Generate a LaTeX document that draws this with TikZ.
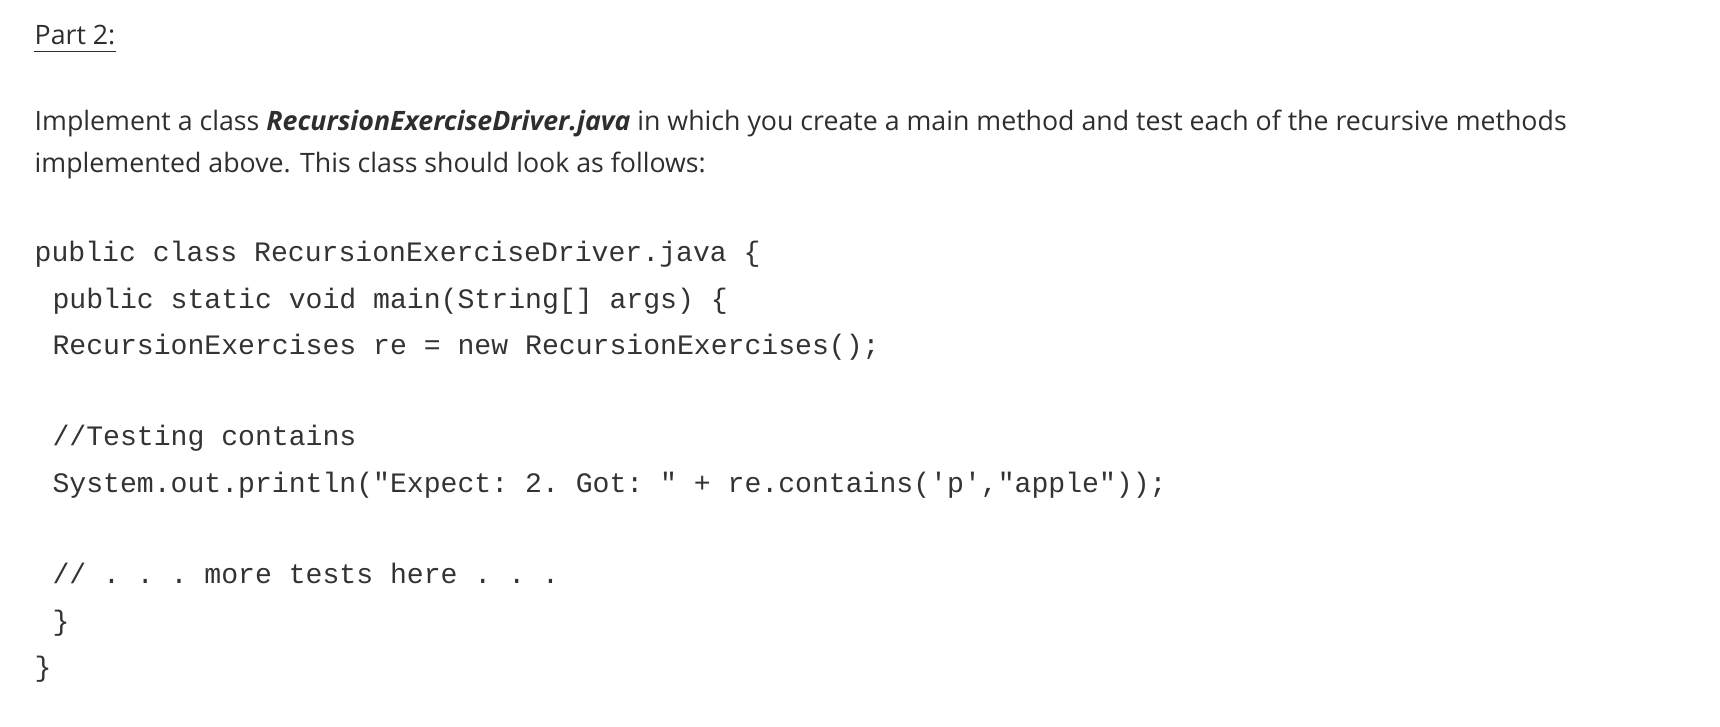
\documentclass[tikz,border=0pt]{standalone}
\usepackage{fontspec}
\setmainfont{Open Sans}
\setmonofont{Liberation Mono}
\begin{document}
\begin{tikzpicture}[x=0.01cm,y=-0.01cm,
  txt/.style={anchor=base west,inner sep=0pt,text=black!82,font=\fontsize{7.6pt}{9pt}\selectfont},
  code/.style={anchor=base west,inner sep=0pt,text=black!80,font=\ttfamily\fontsize{8pt}{9pt}\selectfont}]
\useasboundingbox (0,0) rectangle (1720,726);
\node[txt] (p) at (34,44) {Part 2:};
\draw[black!82,line width=0.3pt] ([yshift=-2.2pt]p.base west) -- ([yshift=-2.2pt]p.base east);
\node[txt] (l1) at (34,130) {Implement a class \textbf{\textit{RecursionExerciseDriver.java}} in which you create a main method and test each of the recursive methods};
\node[txt] (l2) at (34,172) {implemented above. This class should look as follows:};
\node[code] (c1) at (34,261) {public class RecursionExerciseDriver.java \{};
\node[code] (c2) at (51.8,308) {public static void main(String[] args) \{};
\node[code] (c3) at (51.8,354) {RecursionExercises re = new RecursionExercises();};
\node[code] (c4) at (51.8,445) {//Testing contains};
\node[code] (c5) at (51.8,492) {System.out.println("Expect: 2. Got: " + re.contains('p',"apple"));};
\node[code] (c6) at (51.8,583) {// . . . more tests here . . .};
\node[code] (c7) at (51.8,630) {\}};
\node[code] (c8) at (34,676) {\}};
\end{tikzpicture}
\end{document}
